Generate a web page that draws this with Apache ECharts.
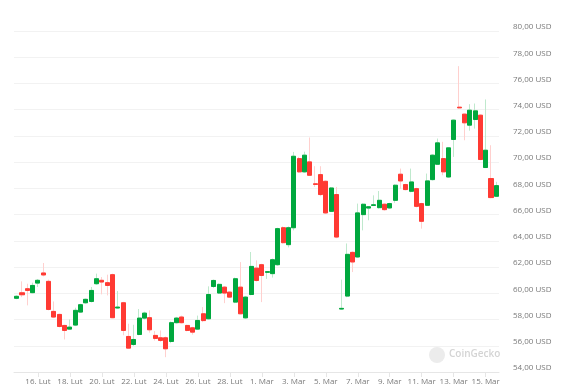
<!DOCTYPE html>
<html>
<head>
<meta charset="utf-8">
<script src="https://cdn.jsdelivr.net/npm/echarts@6/dist/echarts.min.js"></script>
<style>
html,body{margin:0;padding:0;background:#fff;}
#chart{width:573px;height:389px;}
</style>
</head>
<body>
<div id="chart"></div>
<script>
// 8-hour candles, 14 Feb 16:00 -> 15 Mar 16:00 (2024)
const openVals = [59.62,60.04,60.35,60.05,60.78,61.55,60.91,58.62,58.39,57.55,57.27,57.58,58.57,59.28,59.38,60.73,60.99,60.81,61.42,58.88,
59.28,56.71,56.10,56.86,58.11,58.14,56.79,56.61,56.61,56.33,57.76,58.19,57.55,57.37,57.27,58.44,58.06,60.52,60.02,60.47,
60.09,59.33,60.47,58.13,59.91,61.92,62.18,61.60,61.50,62.18,65.00,63.71,65.00,70.27,69.26,70.02,68.35,69.05,68.54,66.25,
67.53,58.80,59.79,63.12,62.77,66.00,66.50,66.70,66.53,66.79,66.51,67.09,69.08,68.29,67.78,67.98,66.84,66.71,68.67,69.84,
70.27,68.87,71.73,74.19,73.66,72.82,73.25,73.58,69.59,68.75,67.40];
const closeVals = [59.77,59.89,60.22,60.60,60.99,61.40,58.77,58.19,57.47,57.17,57.42,58.70,59.13,59.54,60.22,61.11,60.86,60.60,58.14,58.95,
57.17,55.82,56.48,58.11,58.49,57.22,56.56,56.41,55.77,57.76,58.11,57.76,57.17,57.04,57.93,57.92,59.91,60.98,60.68,60.02,
59.71,61.11,58.44,59.71,62.05,60.98,61.36,61.65,62.56,64.93,63.86,65.00,70.45,69.26,70.53,69.00,68.30,67.53,66.13,68.03,
64.29,58.85,62.97,62.39,66.13,66.79,66.60,66.75,67.09,66.38,66.84,68.24,68.57,67.91,68.49,66.63,65.49,68.57,70.53,71.47,
69.26,71.09,73.20,74.14,73.00,73.96,73.91,70.20,70.91,67.30,68.21];
const lowVals = [59.55,59.71,59.08,60.00,60.48,61.29,58.70,58.11,57.40,56.48,57.20,57.50,58.50,59.20,59.30,60.65,59.92,59.84,58.10,58.82,
56.80,55.75,56.00,56.80,58.00,57.00,56.40,56.30,55.13,56.20,57.70,57.70,57.10,56.85,57.20,57.80,58.00,60.40,59.95,59.25,
59.65,59.25,58.40,58.05,59.85,60.90,59.33,61.10,61.20,62.10,63.80,63.50,64.80,69.20,69.20,68.95,68.11,67.40,66.05,66.20,
64.20,58.75,59.70,61.62,62.70,64.80,65.57,66.65,66.45,66.30,66.45,66.90,67.98,67.85,67.70,66.55,64.93,66.65,68.60,69.80,
69.00,68.80,70.40,74.10,71.67,72.40,72.56,70.15,69.55,67.25,67.35];
const highVals = [59.85,60.91,60.73,60.81,61.09,62.31,61.04,59.38,58.45,57.60,58.01,58.90,59.20,59.60,60.48,61.50,61.24,61.42,61.50,60.17,
59.35,57.68,57.60,58.80,58.60,58.70,57.12,57.17,56.70,57.85,58.20,58.30,57.60,57.45,58.30,58.95,60.53,61.05,60.75,60.55,
60.15,61.20,62.38,59.80,63.15,62.51,62.25,61.70,62.65,65.00,65.10,65.10,70.78,70.40,70.80,71.88,69.69,69.69,68.60,68.10,
68.11,61.04,63.80,63.20,66.84,66.85,66.65,67.47,67.80,66.85,66.90,68.30,69.51,68.35,69.51,68.05,66.90,69.13,70.60,71.80,
71.55,71.15,73.25,77.32,73.70,74.42,74.47,73.65,74.78,71.29,68.50];

const monthNames = ['Lut','Mar'];
const slotTimes = ['00:00','08:00','16:00'];
const yTicks = {min:54, max:80, step:2};

// categories: candle start times
const categories = [];
for (let i = 0; i < openVals.length; i++) {
  const total = 2 + i;
  const dOff = Math.floor(total / 3);
  const slot = total % 3;
  let day = 14 + dOff, m = 0;
  if (day > 29) { day -= 29; m = 1; }
  categories.push(day + '. ' + monthNames[m] + ' ' + slotTimes[slot]);
}
// a label every 2 days, at midnight candles
function labelInterval(idx) { return idx >= 4 && (idx - 4) % 6 === 0; }

const wickData = openVals.map((o, i) => [o, closeVals[i], lowVals[i], highVals[i]]);
const bodyData = openVals.map((o, i) => [o, closeVals[i], Math.min(o, closeVals[i]), Math.max(o, closeVals[i])]);

const chart = echarts.init(document.getElementById('chart'), null, {renderer: 'canvas'});
chart.setOption({
  animation: false,
  backgroundColor: '#ffffff',
  grid: {left: 14, right: 74, top: 31, bottom: 17},
  xAxis: {
    type: 'category',
    data: categories,
    boundaryGap: true,
    axisLine: {lineStyle: {color: '#e6e6e6'}},
    axisTick: {show: true, interval: labelInterval, alignWithLabel: true, length: 5, lineStyle: {color: '#e6e6e6'}},
    axisLabel: {
      interval: labelInterval,
      formatter: v => v.split(' ').slice(0, 2).join(' '),
      fontFamily: 'Open Sans', fontSize: 8, color: '#7a7a7a', margin: 6
    },
    splitLine: {show: false}
  },
  yAxis: {
    type: 'value',
    position: 'right',
    min: yTicks.min, max: yTicks.max, interval: yTicks.step,
    axisLine: {show: false},
    axisTick: {show: false},
    splitLine: {lineStyle: {color: '#f2f2f2'}},
    axisLabel: {
      formatter: v => v.toFixed(2).replace('.', ',') + ' USD',
      fontFamily: 'Open Sans', fontSize: 8, color: '#7a7a7a', margin: 14,
      verticalAlign: 'bottom', lineHeight: 8
    }
  },
  graphic: [
    {type: 'circle', shape: {cx: 437, cy: 355, r: 8}, style: {fill: '#ececec'}},
    {type: 'text', left: 449, top: 349, style: {text: 'CoinGecko', fill: '#d4d4d4', font: '600 10px "Open Sans"'}}
  ],
  series: [
    {
      type: 'candlestick',
      data: wickData,
      barWidth: '85%',
      itemStyle: {color: '#bfe9cd', color0: '#ffd0ce', borderColor: '#bfe9cd', borderColor0: '#ffd0ce', borderWidth: 1}
    },
    {
      type: 'candlestick',
      data: bodyData,
      barWidth: '85%',
      itemStyle: {color: '#00a83e', color0: '#ff3a33', borderColor: '#00a83e', borderColor0: '#ff3a33', borderWidth: 1}
    }
  ]
});
</script>
</body>
</html>
